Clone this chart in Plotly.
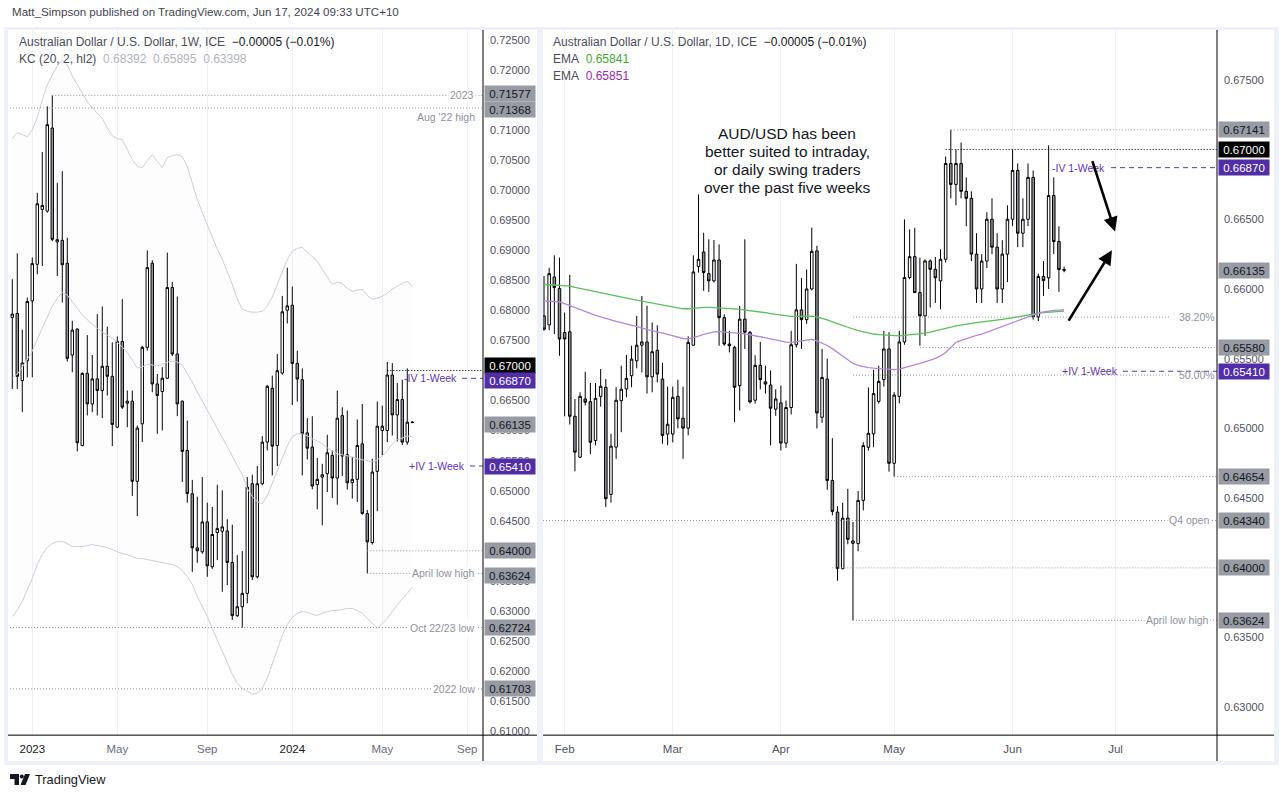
import plotly.graph_objects as go
import pandas as pd

W, H = 1283, 799
FONT = "Liberation Sans, Arial, sans-serif"

# ---------------- weekly (left panel) ----------------
w_start = "2022-12-05"
w_open = [0.67882, 0.67949, 0.66832, 0.67163, 0.68159, 0.68767, 0.69680, 0.69652, 0.71034, 0.69138,
          0.69165, 0.68784, 0.67257, 0.67689, 0.65753, 0.66953, 0.66445, 0.66860, 0.66666, 0.67070,
          0.66903, 0.66057, 0.67484, 0.66456, 0.66490, 0.65156, 0.66113, 0.67385, 0.68784, 0.66776,
          0.66650, 0.66871, 0.68380, 0.67274, 0.66490, 0.65670, 0.64950, 0.64050, 0.63983, 0.64481,
          0.63734, 0.64304, 0.64326, 0.64331, 0.63806, 0.62921, 0.63070, 0.63292, 0.65116, 0.63568,
          0.65116, 0.65808, 0.66704, 0.65753, 0.66958, 0.68003, 0.68086, 0.67118, 0.66847, 0.65962,
          0.65725, 0.65100, 0.65227, 0.65283, 0.65587, 0.65211, 0.66250, 0.65598, 0.65133, 0.65189,
          0.65780, 0.64619, 0.64138, 0.65321, 0.66001, 0.66001, 0.66925, 0.66261, 0.66516, 0.65808,
          0.66140]
w_high = [0.68518, 0.68950, 0.67678, 0.68214, 0.68878, 0.69956, 0.70636, 0.71394, 0.71577, 0.70122,
          0.70316, 0.69209, 0.67827, 0.67700, 0.66970, 0.67589, 0.67257, 0.67938, 0.68065, 0.67728,
          0.67468, 0.67567, 0.68186, 0.66666, 0.66666, 0.66085, 0.67412, 0.68999, 0.68834, 0.66942,
          0.67053, 0.68961, 0.68474, 0.68231, 0.66500, 0.66168, 0.65180, 0.64900, 0.65227, 0.64802,
          0.64730, 0.65100, 0.65006, 0.64525, 0.64436, 0.63928, 0.63994, 0.65227, 0.65266, 0.65410,
          0.65907, 0.66759, 0.66914, 0.67273, 0.68241, 0.68711, 0.68396, 0.67329, 0.67035, 0.66206,
          0.66239, 0.65543, 0.65448, 0.65930, 0.65670, 0.66665, 0.66388, 0.66333, 0.65559, 0.66184,
          0.66444, 0.64680, 0.65532, 0.66483, 0.66416, 0.67141, 0.67124, 0.66792, 0.66847, 0.67035,
          0.66160]
w_low = [0.66693, 0.66693, 0.66306, 0.66887, 0.66887, 0.68601, 0.68740, 0.69624, 0.69150, 0.68573,
         0.68131, 0.67150, 0.66970, 0.65654, 0.65740, 0.66251, 0.66306, 0.66251, 0.66207, 0.66583,
         0.65742, 0.66040, 0.66360, 0.66057, 0.64913, 0.64580, 0.65809, 0.67329, 0.66638, 0.65947,
         0.66002, 0.66860, 0.67240, 0.66240, 0.65145, 0.64800, 0.63650, 0.63800, 0.63950, 0.63568,
         0.63700, 0.63845, 0.63319, 0.63430, 0.62849, 0.62900, 0.62724, 0.63126, 0.63513, 0.63540,
         0.65090, 0.65670, 0.65255, 0.65410, 0.66930, 0.67782, 0.66427, 0.66482, 0.65255, 0.65520,
         0.65023, 0.64691, 0.64425, 0.64978, 0.64879, 0.64768, 0.65244, 0.65023, 0.64868, 0.64813,
         0.64600, 0.63624, 0.64105, 0.64658, 0.65587, 0.65808, 0.65918, 0.65819, 0.65760, 0.65764,
         0.66120]
w_close = [0.67938, 0.66903, 0.67125, 0.68148, 0.68778, 0.69774, 0.69746, 0.71090, 0.69182, 0.69176,
           0.68759, 0.67202, 0.67672, 0.65798, 0.66953, 0.66445, 0.66860, 0.66666, 0.67070, 0.66903,
           0.66102, 0.67484, 0.66390, 0.66490, 0.65156, 0.66041, 0.67385, 0.68711, 0.66776, 0.66583,
           0.66871, 0.68380, 0.67274, 0.66445, 0.65654, 0.64952, 0.64050, 0.64000, 0.64481, 0.63750,
           0.64271, 0.64370, 0.64398, 0.63806, 0.62921, 0.63070, 0.63292, 0.65061, 0.63568, 0.65116,
           0.65808, 0.66737, 0.65742, 0.66997, 0.67976, 0.68075, 0.67118, 0.66858, 0.65946, 0.65708,
           0.65078, 0.65189, 0.65266, 0.65631, 0.65211, 0.66206, 0.65576, 0.65133, 0.65189, 0.65753,
           0.64619, 0.64149, 0.65310, 0.66073, 0.66073, 0.66925, 0.66261, 0.66516, 0.65808, 0.66140,
           0.66135]
kc_upper = [0.70857, 0.70957, 0.70924, 0.70890, 0.71007, 0.71206, 0.71505, 0.71753, 0.71919, 0.72069,
            0.72168, 0.72085, 0.71903, 0.71753, 0.71621, 0.71471, 0.71372, 0.71272, 0.71189, 0.71040,
            0.70907, 0.70857, 0.70841, 0.70675, 0.70509, 0.70393, 0.70376, 0.70492, 0.70592, 0.70476,
            0.70376, 0.70542, 0.70575, 0.70592, 0.70559, 0.70393, 0.70127, 0.69845, 0.69629, 0.69414,
            0.69231, 0.69015, 0.68849, 0.68650, 0.68434, 0.68185, 0.68020, 0.67986, 0.67970, 0.67970,
            0.67986, 0.68069, 0.68219, 0.68434, 0.68650, 0.68849, 0.68982, 0.69032, 0.69048, 0.68965,
            0.68882, 0.68816, 0.68683, 0.68551, 0.68434, 0.68468, 0.68451, 0.68368, 0.68318, 0.68335,
            0.68351, 0.68252, 0.68185, 0.68202, 0.68235, 0.68285, 0.68351, 0.68401, 0.68451, 0.68484,
            0.68392]
kc_basis = [0.66874, 0.66941, 0.67057, 0.67190, 0.67323, 0.67522, 0.67704, 0.67903, 0.68069, 0.68202,
            0.68302, 0.68252, 0.68152, 0.68036, 0.67920, 0.67837, 0.67771, 0.67704, 0.67638, 0.67588,
            0.67538, 0.67472, 0.67389, 0.67306, 0.67173, 0.67040, 0.67057, 0.67107, 0.67090, 0.67074,
            0.67107, 0.67140, 0.67157, 0.67140, 0.67090, 0.66957, 0.66808, 0.66642, 0.66493, 0.66327,
            0.66194, 0.66028, 0.65895, 0.65746, 0.65580, 0.65414, 0.65265, 0.65032, 0.64900, 0.64817,
            0.64783, 0.64916, 0.65132, 0.65331, 0.65564, 0.65746, 0.65895, 0.65945, 0.65945, 0.65912,
            0.65862, 0.65829, 0.65779, 0.65713, 0.65663, 0.65613, 0.65597, 0.65580, 0.65564, 0.65530,
            0.65514, 0.65497, 0.65481, 0.65514, 0.65580, 0.65663, 0.65779, 0.65845, 0.65879, 0.65912,
            0.65895]
kc_lower = [0.62908, 0.63008, 0.63157, 0.63340, 0.63539, 0.63771, 0.63937, 0.64054, 0.64120, 0.64153,
            0.64153, 0.64120, 0.64070, 0.64070, 0.64070, 0.64087, 0.64103, 0.64087, 0.64070, 0.64054,
            0.64020, 0.63987, 0.63954, 0.63937, 0.63904, 0.63871, 0.63871, 0.63854, 0.63837, 0.63821,
            0.63804, 0.63788, 0.63771, 0.63738, 0.63672, 0.63572, 0.63439, 0.63240, 0.63074, 0.62908,
            0.62709, 0.62510, 0.62327, 0.62145, 0.61946, 0.61796, 0.61713, 0.61664, 0.61614, 0.61630,
            0.61713, 0.61879, 0.62128, 0.62377, 0.62593, 0.62775, 0.62891, 0.62958, 0.62991, 0.62975,
            0.62942, 0.62925, 0.62958, 0.62991, 0.63008, 0.63008, 0.63024, 0.63041, 0.63041, 0.63008,
            0.62958, 0.62875, 0.62775, 0.62709, 0.62792, 0.62875, 0.62991, 0.63107, 0.63207, 0.63290,
            0.63398]
w_dates = pd.date_range(w_start, periods=len(w_open), freq="7D")
w_tick_dates = ["2023-01-02", "2023-05-01", "2023-09-04", "2024-01-01", "2024-05-06", "2024-09-02"]
w_tick_text = ["2023", "May", "Sep", "2024", "May", "Sep"]

# ---------------- daily (right panel) ----------------
d_start = "2024-01-26"
d_open = [0.65807, 0.65743, 0.66086, 0.66003, 0.65688, 0.65693, 0.65087, 0.64794, 0.65211, 0.65192,
          0.64913, 0.65230, 0.65295, 0.64527, 0.64866, 0.65199, 0.65283, 0.65378, 0.65485, 0.65597,
          0.65620, 0.65370, 0.65560, 0.65354, 0.64960, 0.64960, 0.65230, 0.65073, 0.65002, 0.65597,
          0.66161, 0.66265, 0.66110, 0.66058, 0.66208, 0.65795, 0.65605, 0.65581, 0.65307, 0.65784,
          0.65688, 0.65202, 0.65452, 0.65334, 0.65311, 0.65138, 0.65183, 0.64895, 0.65150, 0.65600,
          0.65850, 0.65780, 0.66000, 0.66273, 0.65080, 0.65354, 0.64627, 0.64400, 0.63994, 0.64357,
          0.64176, 0.64174, 0.64484, 0.64865, 0.64961, 0.65194, 0.65350, 0.65570, 0.64750, 0.65230,
          0.65620, 0.66082, 0.66232, 0.65974, 0.65807, 0.66201, 0.66141, 0.66058, 0.66213, 0.66900,
          0.66750, 0.66900, 0.66700, 0.66650, 0.66250, 0.66000, 0.66200, 0.66500, 0.66300, 0.66000,
          0.66250, 0.66500, 0.66850, 0.66400, 0.66500, 0.66800, 0.65800, 0.66090, 0.66080, 0.66670,
          0.66340, 0.66140]
d_high = [0.66093, 0.66153, 0.66241, 0.66225, 0.65831, 0.66101, 0.65211, 0.65259, 0.65407, 0.65326,
          0.65326, 0.65426, 0.65354, 0.64961, 0.65295, 0.65450, 0.65526, 0.65593, 0.65807, 0.65950,
          0.65880, 0.65760, 0.65740, 0.65470, 0.65300, 0.65300, 0.65350, 0.65300, 0.65660, 0.66241,
          0.66678, 0.66403, 0.66356, 0.66351, 0.66320, 0.65819, 0.65700, 0.65593, 0.65879, 0.66356,
          0.65700, 0.65524, 0.65620, 0.65450, 0.65416, 0.65280, 0.65307, 0.65200, 0.65700, 0.66180,
          0.66080, 0.66140, 0.66440, 0.66310, 0.65570, 0.65500, 0.64930, 0.64443, 0.64467, 0.64567,
          0.64329, 0.64551, 0.64901, 0.65294, 0.65420, 0.65450, 0.65700, 0.65690, 0.65260, 0.65700,
          0.66499, 0.66427, 0.66439, 0.66225, 0.66213, 0.66213, 0.66230, 0.66285, 0.66950, 0.67141,
          0.67000, 0.67050, 0.66800, 0.66700, 0.66400, 0.66250, 0.66550, 0.66650, 0.66400, 0.66350,
          0.66600, 0.67000, 0.66900, 0.66650, 0.66900, 0.66850, 0.66110, 0.66200, 0.67030, 0.66800,
          0.66450, 0.66160]
d_low = [0.65700, 0.65705, 0.65676, 0.65521, 0.65087, 0.65028, 0.64692, 0.64787, 0.65164, 0.64816,
         0.64878, 0.65156, 0.64437, 0.64468, 0.64782, 0.64973, 0.65223, 0.65295, 0.65431, 0.65402,
         0.65250, 0.65259, 0.65330, 0.64890, 0.64880, 0.64900, 0.65000, 0.64782, 0.64950, 0.65593,
         0.66118, 0.65987, 0.65979, 0.66046, 0.65593, 0.65593, 0.65545, 0.65045, 0.65128, 0.65570,
         0.65178, 0.65178, 0.65280, 0.65250, 0.64878, 0.65090, 0.64842, 0.64860, 0.65100, 0.65580,
         0.65570, 0.65750, 0.65990, 0.65000, 0.65040, 0.64560, 0.64377, 0.63907, 0.63990, 0.64169,
         0.63624, 0.64119, 0.64412, 0.64841, 0.64865, 0.65178, 0.65300, 0.64690, 0.64654, 0.65180,
         0.65600, 0.66070, 0.65970, 0.65593, 0.65664, 0.65867, 0.65900, 0.65855, 0.66190, 0.66650,
         0.66600, 0.66650, 0.66450, 0.66200, 0.65900, 0.65900, 0.66150, 0.66250, 0.65900, 0.65900,
         0.66050, 0.66450, 0.66300, 0.66300, 0.66450, 0.65780, 0.65770, 0.65950, 0.66000, 0.66250,
         0.65980, 0.66120]
d_close = [0.65712, 0.66110, 0.66010, 0.65641, 0.65641, 0.65087, 0.64830, 0.65230, 0.65188, 0.64901,
           0.65216, 0.65302, 0.64496, 0.64873, 0.65202, 0.65281, 0.65359, 0.65497, 0.65597, 0.65620,
           0.65370, 0.65550, 0.65390, 0.64950, 0.65030, 0.65223, 0.65068, 0.65002, 0.65617, 0.66122,
           0.66213, 0.66118, 0.66058, 0.66208, 0.65795, 0.65605, 0.65593, 0.65295, 0.65784, 0.65690,
           0.65190, 0.65452, 0.65350, 0.65318, 0.65145, 0.65211, 0.64895, 0.65150, 0.65600, 0.65850,
           0.65780, 0.66000, 0.66270, 0.65111, 0.65366, 0.64627, 0.64405, 0.63996, 0.64357, 0.64205,
           0.64193, 0.64484, 0.64877, 0.64965, 0.65250, 0.65337, 0.65570, 0.64750, 0.65239, 0.65620,
           0.66082, 0.66232, 0.65974, 0.65807, 0.66201, 0.66141, 0.66080, 0.66213, 0.66900, 0.66750,
           0.66900, 0.66700, 0.66650, 0.66250, 0.66000, 0.66200, 0.66500, 0.66300, 0.66000, 0.66250,
           0.66500, 0.66850, 0.66400, 0.66500, 0.66800, 0.65800, 0.66090, 0.66060, 0.66670, 0.66340,
           0.66140, 0.66135]
ema_green = [0.66034, 0.66032, 0.66030, 0.66028, 0.66024, 0.66020, 0.66012, 0.66004, 0.65996, 0.65988,
             0.65980, 0.65972, 0.65962, 0.65955, 0.65948, 0.65941, 0.65934, 0.65927, 0.65920, 0.65913,
             0.65906, 0.65899, 0.65893, 0.65886, 0.65879, 0.65872, 0.65865, 0.65858, 0.65858, 0.65862,
             0.65866, 0.65868, 0.65868, 0.65867, 0.65866, 0.65864, 0.65861, 0.65858, 0.65854, 0.65850,
             0.65846, 0.65840, 0.65835, 0.65830, 0.65824, 0.65818, 0.65812, 0.65806, 0.65803, 0.65803,
             0.65804, 0.65804, 0.65805, 0.65800, 0.65790, 0.65778, 0.65764, 0.65750, 0.65737, 0.65725,
             0.65713, 0.65702, 0.65692, 0.65683, 0.65677, 0.65673, 0.65670, 0.65666, 0.65664, 0.65664,
             0.65667, 0.65670, 0.65674, 0.65678, 0.65683, 0.65690, 0.65698, 0.65706, 0.65716, 0.65726,
             0.65736, 0.65743, 0.65749, 0.65754, 0.65758, 0.65762, 0.65766, 0.65770, 0.65776, 0.65782,
             0.65788, 0.65795, 0.65801, 0.65808, 0.65815, 0.65821, 0.65826, 0.65830, 0.65834, 0.65837,
             0.65840, 0.65841]
ema_purple = [0.65914, 0.65912, 0.65910, 0.65907, 0.65895, 0.65880, 0.65865, 0.65850, 0.65836, 0.65822,
              0.65810, 0.65800, 0.65788, 0.65778, 0.65768, 0.65758, 0.65750, 0.65740, 0.65730, 0.65720,
              0.65712, 0.65703, 0.65694, 0.65684, 0.65674, 0.65665, 0.65655, 0.65645, 0.65642, 0.65650,
              0.65662, 0.65674, 0.65684, 0.65692, 0.65694, 0.65692, 0.65689, 0.65685, 0.65682, 0.65678,
              0.65672, 0.65665, 0.65658, 0.65651, 0.65643, 0.65635, 0.65627, 0.65619, 0.65617, 0.65622,
              0.65630, 0.65636, 0.65638, 0.65628, 0.65612, 0.65595, 0.65572, 0.65546, 0.65520, 0.65494,
              0.65466, 0.65452, 0.65442, 0.65436, 0.65432, 0.65429, 0.65426, 0.65424, 0.65421, 0.65425,
              0.65434, 0.65444, 0.65456, 0.65466, 0.65478, 0.65490, 0.65502, 0.65520, 0.65545, 0.65580,
              0.65617, 0.65632, 0.65645, 0.65657, 0.65667, 0.65676, 0.65690, 0.65704, 0.65718, 0.65732,
              0.65746, 0.65761, 0.65775, 0.65789, 0.65803, 0.65817, 0.65827, 0.65835, 0.65842, 0.65846,
              0.65849, 0.65851]
d_dates = pd.bdate_range(d_start, periods=len(d_open))
d_idx = list(range(len(d_dates)))
ext_days = pd.bdate_range(d_start, "2024-07-31")
d_tick_idx, d_tick_text = [], []
for k in range(1, len(ext_days)):
    if ext_days[k].month != ext_days[k - 1].month:
        d_tick_idx.append(k)
        d_tick_text.append(ext_days[k].strftime("%b"))

# y-axis tick values (labels fully hidden behind a price tag are left out)
left_ticks = [0.725, 0.72, 0.71, 0.705, 0.70, 0.695, 0.69, 0.685, 0.68, 0.675, 0.665, 0.66,
              0.655, 0.65, 0.645, 0.635, 0.63, 0.625, 0.62, 0.615, 0.61]
right_ticks = [0.675, 0.665, 0.66, 0.655, 0.65, 0.645, 0.635, 0.63]

# ---------------- levels / notes ----------------
fib_382 = 0.65798
fib_500 = 0.653825
note_lines = ["AUD/USD has been", "better suited to intraday,", "or daily swing traders",
              "over the past five weeks"]
arrows = [  # (tail_idx, tail_price, head_idx, head_price)
    (106.4, 0.66928, 110.9, 0.66413),
    (101.7, 0.65762, 110.3, 0.66277),
]


def px(x):
    return x / W


def py(y):
    return 1 - y / H


GRAY_LINE = "#9598a1"
LABEL_GRAY = "#8f939e"
PURPLE = "#5e35b1"
PURPLE_TAG = "#512da8"
TAG_GRAY = "#989ba3"
DOT = "1px,2px"
DASH = "5px,4px"

fig = go.Figure()

# Keltner channel
band_col = "#cdcedb"
fig.add_trace(go.Scatter(x=w_dates, y=kc_lower, mode="lines", line=dict(color=band_col, width=1),
                         xaxis="x", yaxis="y", hoverinfo="skip", showlegend=False))
fig.add_trace(go.Scatter(x=w_dates, y=kc_upper, mode="lines", line=dict(color=band_col, width=1),
                         fill="tonexty", fillcolor="rgba(200,202,218,0.035)",
                         xaxis="x", yaxis="y", hoverinfo="skip", showlegend=False))
fig.add_trace(go.Scatter(x=w_dates, y=kc_basis, mode="lines", line=dict(color=band_col, width=1),
                         xaxis="x", yaxis="y", hoverinfo="skip", showlegend=False))

candle_style = dict(
    increasing=dict(line=dict(color="#000000", width=1), fillcolor="#ffffff"),
    decreasing=dict(line=dict(color="#000000", width=1), fillcolor="#8e9099"),
    whiskerwidth=0, showlegend=False, hoverinfo="skip",
)
fig.add_trace(go.Candlestick(x=w_dates, open=w_open, high=w_high, low=w_low, close=w_close,
                             xaxis="x", yaxis="y", **candle_style))
fig.add_trace(go.Candlestick(x=d_idx, open=d_open, high=d_high, low=d_low, close=d_close,
                             xaxis="x2", yaxis="y2", **candle_style))
fig.add_trace(go.Scatter(x=d_idx, y=ema_green, mode="lines", line=dict(color="#5cbf5c", width=1.3),
                         xaxis="x2", yaxis="y2", hoverinfo="skip", showlegend=False))
fig.add_trace(go.Scatter(x=d_idx, y=ema_purple, mode="lines", line=dict(color="#b48ad6", width=1.3),
                         xaxis="x2", yaxis="y2", hoverinfo="skip", showlegend=False))

shapes = []
annotations = []

# frame / panels
shapes.append(dict(type="rect", xref="paper", yref="paper", x0=px(4), x1=px(1279), y0=py(767), y1=py(27),
                   fillcolor="#eef1f7", line=dict(width=0), layer="below"))
for (a, b) in [(8, 537), (543, 1274)]:
    shapes.append(dict(type="rect", xref="paper", yref="paper", x0=px(a), x1=px(b), y0=py(763), y1=py(30),
                       fillcolor="#ffffff", line=dict(width=0), layer="below"))


def hline(x0, x1, y, xref, yref, color=GRAY_LINE, dash=DOT, width=1):
    shapes.append(dict(type="line", xref=xref, yref=yref, x0=x0, x1=x1, y0=y, y1=y,
                       line=dict(color=color, dash=dash, width=width), layer="above"))


def label(xp, y, yref, text, color=LABEL_GRAY, anchor="right", bg=None, yshift=0, size=10.5):
    a = dict(x=px(xp), xref="paper", y=y, yref=yref, text=text, showarrow=False,
             xanchor=anchor, yanchor="middle", yshift=yshift,
             font=dict(family=FONT, size=size, color=color))
    if bg:
        a["bgcolor"] = bg
        a["borderpad"] = 1
    annotations.append(a)


def tag(xp, y, yref, kind, yshift=0):
    bg = {"gray": TAG_GRAY, "black": "#000000", "purple": PURPLE_TAG}[kind]
    fc = "#131722" if kind == "gray" else "#ffffff"
    annotations.append(dict(x=px(xp), xref="paper", y=y, yref=yref, text=f"{y:.5f}", showarrow=False,
                            xanchor="left", yanchor="middle", yshift=yshift, align="center",
                            width=50, height=15, borderpad=0, bgcolor=bg,
                            font=dict(family=FONT, size=11.5, color=fc)))


# ---- left panel levels ----
L_END = "2024-09-24"
hline(w_dates[8], L_END, 0.71577, "x", "y")
label(476, 0.71577, "y", "2023", bg="#ffffff")
hline(px(10), px(483), 0.71368, "paper", "y")
label(477, 0.71368, "y", "Aug '22 high", yshift=-9)
hline(w_dates[75], L_END, 0.67000, "x", "y", color="#000000")
label(459, 0.66870, "y", "-IV 1-Week", color=PURPLE)
hline(px(462), px(483), 0.66870, "paper", "y", color=PURPLE, dash=DASH)
label(467, 0.65410, "y", "+IV 1-Week", color=PURPLE)
hline(px(470), px(483), 0.65410, "paper", "y", color=PURPLE, dash=DASH)
hline(w_dates[71], L_END, 0.64000, "x", "y")
hline(w_dates[71], L_END, 0.63624, "x", "y")
label(477, 0.63624, "y", "April low high", bg="#ffffff")
hline(px(10), px(483), 0.62724, "paper", "y")
label(477, 0.62724, "y", "Oct 22/23 low", bg="#ffffff")
hline(px(10), px(483), 0.61703, "paper", "y")
label(477, 0.61703, "y", "2022 low", bg="#ffffff")

tag(484, 0.71577, "y", "gray", yshift=2)
tag(484, 0.71368, "y", "gray", yshift=-2)
tag(484, 0.67000, "y", "black", yshift=5)
tag(484, 0.66870, "y", "purple", yshift=-2)
tag(484, 0.66135, "y", "gray", yshift=-2)
tag(484, 0.65410, "y", "purple")
tag(484, 0.64000, "y", "gray")
tag(484, 0.63624, "y", "gray", yshift=-2)
tag(484, 0.62724, "y", "gray")
tag(484, 0.61703, "y", "gray")

# ---- right panel levels ----
R_END = 131
hline(79, R_END, 0.67141, "x2", "y2")
hline(78, R_END, 0.67000, "x2", "y2", color="#000000")
label(1107, 0.66870, "y2", "-IV 1-Week", color=PURPLE)
hline(px(1111), px(1217), 0.66870, "paper", "y2", color=PURPLE, dash=DASH)
hline(60, 121.5, fib_382, "x2", "y2")
label(1177, fib_382, "y2", "38.20%", anchor="left")
hline(73, R_END, 0.65580, "x2", "y2")
hline(60, 121.5, fib_500, "x2", "y2")
label(1177, fib_500, "y2", "50.00%", anchor="left")
label(1120, 0.65410, "y2", "+IV 1-Week", color=PURPLE)
hline(px(1123), px(1217), 0.65410, "paper", "y2", color=PURPLE, dash=DASH)
hline(68, R_END, 0.64654, "x2", "y2")
hline(px(543), px(1217), 0.64340, "paper", "y2")
label(1211, 0.64340, "y2", "Q4 open", bg="#ffffff")
hline(56, R_END, 0.64000, "x2", "y2")
hline(60, R_END, 0.63624, "x2", "y2")
label(1211, 0.63624, "y2", "April low high", bg="#ffffff")

for v, k in [(0.67141, "gray"), (0.67000, "black"), (0.66870, "purple"), (0.66135, "gray"),
             (0.65580, "gray"), (0.65410, "purple"), (0.64654, "gray"), (0.64340, "gray"),
             (0.64000, "gray"), (0.63624, "gray")]:
    tag(1218, v, "y2", k)

# axis lines
shapes.append(dict(type="line", xref="paper", yref="paper", x0=px(483), x1=px(483), y0=py(763), y1=py(30),
                   line=dict(color="#000000", width=1)))
shapes.append(dict(type="line", xref="paper", yref="paper", x0=px(8), x1=px(537), y0=py(737), y1=py(737),
                   line=dict(color="#000000", width=1)))
shapes.append(dict(type="line", xref="paper", yref="paper", x0=px(1217), x1=px(1217), y0=py(763), y1=py(30),
                   line=dict(color="#000000", width=1)))
shapes.append(dict(type="line", xref="paper", yref="paper", x0=px(543), x1=px(1274), y0=py(737), y1=py(737),
                   line=dict(color="#000000", width=1)))

# arrows
for (tx, ty, hx, hy) in arrows:
    annotations.append(dict(x=hx, y=hy, ax=tx, ay=ty, xref="x2", yref="y2", axref="x2", ayref="y2",
                            text="", showarrow=True, arrowhead=2, arrowsize=1.1, arrowwidth=2.6,
                            arrowcolor="#000000"))

# chart comment (one annotation per line to match line spacing)
for n, line_txt in enumerate(note_lines):
    annotations.append(dict(x=px(787), y=py(134 + 18 * n), xref="paper", yref="paper", showarrow=False,
                            text=line_txt, align="center", xanchor="center", yanchor="middle",
                            font=dict(family=FONT, size=15.5, color="#131722")))

# headers
HDR = "#4a4d57"
annotations.append(dict(x=px(10), y=py(12), xref="paper", yref="paper", showarrow=False, xanchor="left",
                        yanchor="middle", text="Matt_Simpson published on TradingView.com, Jun 17, 2024 09:33 UTC+10",
                        font=dict(family=FONT, size=11.6, color="#434651")))
annotations.append(dict(x=px(17), y=py(42), xref="paper", yref="paper", showarrow=False, xanchor="left",
                        yanchor="middle",
                        text="Australian Dollar / U.S. Dollar, 1W, ICE\u00a0\u00a0<span style='color:#131722'>\u22120.00005 (\u22120.01%)</span>",
                        font=dict(family=FONT, size=12, color=HDR)))
annotations.append(dict(x=px(17), y=py(59), xref="paper", yref="paper", showarrow=False, xanchor="left",
                        yanchor="middle",
                        text="KC (20, 2, hl2)\u00a0\u00a0<span style='color:#b2b5be'>0.68392\u00a0\u00a00.65895\u00a0\u00a00.63398</span>",
                        font=dict(family=FONT, size=12, color=HDR)))
annotations.append(dict(x=px(551), y=py(42), xref="paper", yref="paper", showarrow=False, xanchor="left",
                        yanchor="middle",
                        text="Australian Dollar / U.S. Dollar, 1D, ICE\u00a0\u00a0<span style='color:#131722'>\u22120.00005 (\u22120.01%)</span>",
                        font=dict(family=FONT, size=12, color=HDR)))
annotations.append(dict(x=px(551), y=py(59), xref="paper", yref="paper", showarrow=False, xanchor="left",
                        yanchor="middle", text="EMA\u00a0\u00a0<span style='color:#43a832'>0.65841</span>",
                        font=dict(family=FONT, size=12, color=HDR)))
annotations.append(dict(x=px(551), y=py(76), xref="paper", yref="paper", showarrow=False, xanchor="left",
                        yanchor="middle", text="EMA\u00a0\u00a0<span style='color:#9c27b0'>0.65851</span>",
                        font=dict(family=FONT, size=12, color=HDR)))

# TradingView footer logo + text
shapes.append(dict(type="rect", xref="paper", yref="paper", x0=px(10), x1=px(19), y0=py(781), y1=py(776),
                   fillcolor="#131722", line=dict(width=0)))
shapes.append(dict(type="rect", xref="paper", yref="paper", x0=px(14.5), x1=px(19), y0=py(787), y1=py(776),
                   fillcolor="#131722", line=dict(width=0)))
shapes.append(dict(type="circle", xref="paper", yref="paper", x0=px(19.8), x1=px(23.8), y0=py(780.5),
                   y1=py(776.5), fillcolor="#131722", line=dict(width=0)))
shapes.append(dict(type="path", xref="paper", yref="paper",
                   path=f"M {px(25)},{py(776)} L {px(30)},{py(776)} L {px(25.5)},{py(787)} L {px(20.5)},{py(787)} Z",
                   fillcolor="#131722", line=dict(width=0)))
annotations.append(dict(x=px(33), y=py(781), xref="paper", yref="paper", showarrow=False, xanchor="left",
                        yanchor="middle", text="TradingView",
                        font=dict(family=FONT, size=12.8, color="#131722")))

YEAR_C = "#131722"
MON_C = "#6a6d78"
w_tick_html = [f"<span style='color:{YEAR_C if t.isdigit() else MON_C}'>{t}</span>" for t in w_tick_text]

tickfont = dict(family=FONT, size=11, color="#50535e")
fig.update_layout(
    width=W, height=H, autosize=False,
    margin=dict(l=0, r=0, t=0, b=0),
    paper_bgcolor="#ffffff", plot_bgcolor="rgba(0,0,0,0)",
    showlegend=False, hovermode=False,
    shapes=shapes, annotations=annotations,
    xaxis=dict(domain=[px(8), px(483)], range=["2022-11-29", L_END], type="date", anchor="y",
               tickmode="array", tickvals=w_tick_dates, ticktext=w_tick_html,
               showgrid=True, gridcolor="#f0f1f5", gridwidth=1, zeroline=False, showline=False,
               ticks="", tickfont=dict(family=FONT, size=11.5), ticklabelstandoff=5,
               rangeslider=dict(visible=False), fixedrange=True),
    yaxis=dict(domain=[py(737), py(30)], range=[0.60933, 0.72666], side="right", anchor="x",
               tickmode="array", tickvals=left_ticks, tickformat=".5f",
               showgrid=False, zeroline=False, showline=False, ticks="",
               tickfont=tickfont, ticklabelstandoff=6, fixedrange=True),
    xaxis2=dict(domain=[px(543), px(1217)], range=[-0.2, 130.7], anchor="y2",
                tickmode="array", tickvals=d_tick_idx, ticktext=d_tick_text,
                showgrid=True, gridcolor="#f0f1f5", gridwidth=1, zeroline=False, showline=False,
                ticks="", tickfont=dict(family=FONT, size=11.5, color="#50535e"), ticklabelstandoff=5,
                rangeslider=dict(visible=False), fixedrange=True),
    yaxis2=dict(domain=[py(737), py(30)], range=[0.628004, 0.678577], side="right", anchor="x2",
                tickmode="array", tickvals=right_ticks, tickformat=".5f",
                showgrid=False, zeroline=False, showline=False, ticks="",
                tickfont=tickfont, ticklabelstandoff=6, fixedrange=True),
)

fig.write_html("out.html", config={"displayModeBar": False, "staticPlot": True},
               post_script="document.body.style.margin='0px';document.body.style.overflow='hidden';")
